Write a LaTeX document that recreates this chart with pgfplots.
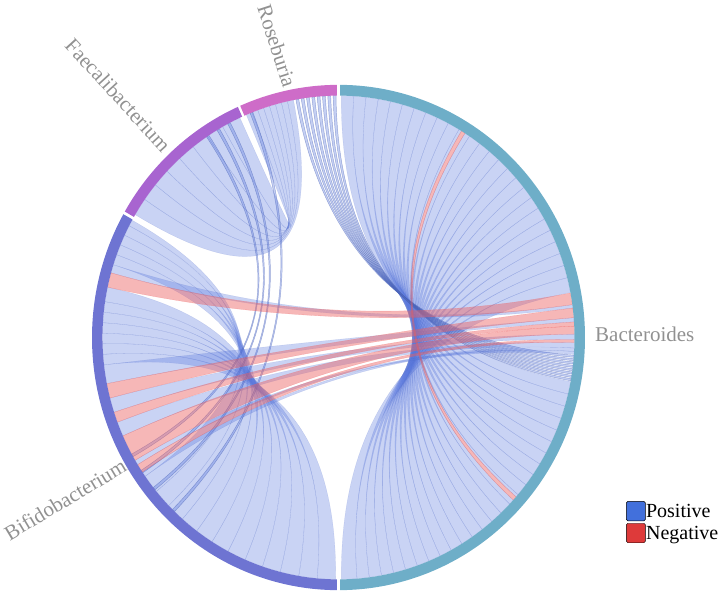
\documentclass[border=0pt]{standalone}
\usepackage{pgfplots}
\pgfplotsset{compat=1.18}
\usepackage{pgfplotstable}
\usepackage{fontspec}
\setmainfont{Liberation Serif}
\newfontfamily\labfont{Liberation Serif}

\definecolor{bact}{RGB}{110,174,200}
\definecolor{bifi}{RGB}{110,116,210}
\definecolor{faec}{RGB}{168,100,208}
\definecolor{rose}{RGB}{206,108,200}
\definecolor{cpos}{RGB}{90,120,222}
\definecolor{cneg}{RGB}{236,96,96}
\definecolor{lblgray}{RGB}{145,145,145}
\definecolor{legpos}{RGB}{66,112,220}
\definecolor{legneg}{RGB}{222,58,58}

\tikzset{
  chordpos/.style={fill=cpos, fill opacity=0.33, draw=cpos!85!black, draw opacity=0.2, line width=0.3pt},
  chordneg/.style={fill=cneg, fill opacity=0.45, draw=cneg, draw opacity=0.4, line width=0.3pt},
  chordline/.style={fill=cpos, fill opacity=0.35, draw=cpos!80!black, draw opacity=0.5, line width=0.45pt},
}

% sectors: angles clockwise from top (degrees); c: 0 Bacteroides 1 Bifidobacterium 2 Faecalibacterium 3 Roseburia
\pgfplotstableread{
a1 a2 c
0.4 179.6 0
180.4 299.2 1
299.9 335.9 2
336.5 359.6 3
}\sectors

% chords: s1 s2 = one end, t1 t2 = other end (clockwise from top); c: 0 positive, 1 negative, 2 positive thin
\pgfplotstableread{
s1 s2 t1 t2 c
0.7 3.7 100.5 103.5 0
3.7 6.7 103.5 106.5 0
6.7 9.7 106.5 109.5 0
9.7 12.7 109.5 112.5 0
12.7 15.7 112.5 115.5 0
15.7 18.7 115.5 118.5 0
18.7 21.7 118.5 121.5 0
21.7 24.7 121.5 124.5 0
24.7 27.7 124.5 127.5 0
27.7 30.7 127.5 130.5 0
30.7 31.4 130.5 131.2 0
32.4 33.7 132.2 133.5 0
33.7 36.7 133.5 136.5 0
36.7 39.7 136.5 139.5 0
39.7 42.7 139.5 142.5 0
42.7 45.7 142.5 145.5 0
45.7 48.7 145.5 148.5 0
48.7 51.7 148.5 151.5 0
51.7 54.7 151.5 154.5 0
54.7 57.7 154.5 157.5 0
57.7 60.7 157.5 160.5 0
60.7 63.7 160.5 163.5 0
63.7 66.7 163.5 166.5 0
66.7 69.7 166.5 169.5 0
69.7 72.7 169.5 172.5 0
72.7 75.7 172.5 175.5 0
75.7 79.3 175.5 179.3 0
263.5 266 180.7 185.2 0
266 268.5 185.2 189.7 0
268.5 271 189.7 194.3 0
271 273.5 194.3 198.8 0
273.5 276 198.8 203.3 0
276 278.5 203.3 207.9 0
278.5 282 207.9 212.4 0
287.5 290 212.4 216.9 0
290 292.5 216.9 221.4 0
292.5 295 221.4 226.0 0
295 297.5 226.0 230.5 0
297.5 299 230.5 235.0 0
300.5 304.8 347.5 349 0
304.8 309.1 346 347.5 0
309.1 313.4 344.5 346 0
313.4 317.7 343 344.5 0
317.7 322.0 341.5 343 0
322.0 326.3 340 341.5 0
326.3 330.6 338.5 340 0
330.6 335.3 337 338.5 0
326 326.7 240.5 241.2 2
329 329.7 236 236.7 2
332 332.7 231 231.7 2
338 338.7 224 224.7 2
349.6 350.3 94.2 94.7 2
350.9 351.6 95 95.5 2
352.2 352.9 95.8 96.3 2
353.5 354.2 96.6 97.1 2
354.8 355.5 97.4 97.9 2
356.1 356.8 98.2 98.7 2
357.4 358.1 99 99.5 2
358.7 359.4 99.8 100.3 2
285.5 287.5 82.2 83 0
259 263.5 85.3 86.3 0
252 255.5 89.2 90.5 0
246 249.5 91.2 92.5 0
235 236.2 92.5 93.3 0
238.3 239.5 93.3 94 0
31.4 32.4 131.2 132.2 1
282 285.5 79.4 82.2 1
255.5 259 83 85.3 1
249.5 252 86.3 87.3 1
239.5 246 87.3 89.2 1
236.2 238.3 90.5 91.2 1
}\chords

\pgfplotstablegetrowsof{\chords}
\pgfmathtruncatemacro\nchords{\pgfplotsretval-1}
\pgfplotstablegetrowsof{\sectors}
\pgfmathtruncatemacro\nsectors{\pgfplotsretval-1}

\def\Cx{338.5}\def\Cy{256.5}
\def\Rin{236}\def\Rout{246.5}\def\Rc{78.667}\def\Ys{1.025}

\begin{document}
\begin{tikzpicture}
\begin{axis}[x=1pt,y=1pt,xmin=0,xmax=725,ymin=0,ymax=594,hide axis,clip=false,
  legend image code/.code={\fill[#1,rounded corners=1.5pt] (0pt,-9.5pt) rectangle (19pt,10pt);},
  legend style={at={(0.8634,0.1566)},anchor=north west,draw=none,fill=none,inner sep=0pt,
    font=\labfont\fontsize{20}{22}\selectfont,row sep=2pt,nodes={inner sep=0.5pt}},
  legend cell align=left]
\path (axis cs:0,0) rectangle (axis cs:725,594);
\pgfplotsforeachungrouped \i in {0,...,\nchords}{%
  \pgfplotstablegetelem{\i}{s1}\of\chords \pgfmathsetmacro\pa{90-\pgfplotsretval}%
  \pgfplotstablegetelem{\i}{s2}\of\chords \pgfmathsetmacro\pb{90-\pgfplotsretval}%
  \pgfplotstablegetelem{\i}{t1}\of\chords \pgfmathsetmacro\pc{90-\pgfplotsretval}%
  \pgfplotstablegetelem{\i}{t2}\of\chords \pgfmathsetmacro\pd{90-\pgfplotsretval}%
  \pgfplotstablegetelem{\i}{c}\of\chords \pgfmathtruncatemacro\cc{\pgfplotsretval}%
  \ifcase\cc \def\sty{chordpos}\or \def\sty{chordneg}\or \def\sty{chordline}\fi
  \edef\cmd{\noexpand\path[\sty,shift={(axis cs:\Cx,\Cy)},yscale=\Ys]
    (\pa:\Rin pt) arc[start angle=\pa,end angle=\pb,radius=\Rin pt]
    .. controls (\pb:\Rc pt) and (\pc:\Rc pt) .. (\pc:\Rin pt)
    arc[start angle=\pc,end angle=\pd,radius=\Rin pt]
    .. controls (\pd:\Rc pt) and (\pa:\Rc pt) .. cycle;}%
  \cmd
}
\pgfplotsforeachungrouped \i in {0,...,\nsectors}{%
  \pgfplotstablegetelem{\i}{a1}\of\sectors \pgfmathsetmacro\pa{90-\pgfplotsretval}%
  \pgfplotstablegetelem{\i}{a2}\of\sectors \pgfmathsetmacro\pb{90-\pgfplotsretval}%
  \pgfplotstablegetelem{\i}{c}\of\sectors \pgfmathtruncatemacro\cc{\pgfplotsretval}%
  \ifcase\cc \def\sty{bact}\or \def\sty{bifi}\or \def\sty{faec}\or \def\sty{rose}\fi
  \edef\cmd{\noexpand\fill[\sty,shift={(axis cs:\Cx,\Cy)},yscale=\Ys]
    (\pa:\Rout pt) arc[start angle=\pa,end angle=\pb,radius=\Rout pt]
    -- (\pb:\Rin pt) arc[start angle=\pb,end angle=\pa,radius=\Rin pt] -- cycle;}%
  \cmd
}
\node[anchor=base west,inner sep=0pt,text=lblgray,font=\labfont\fontsize{21}{25}\selectfont] at (axis cs:595,252) {Bacteroides};
\node[rotate=-72,inner sep=0pt,text=lblgray,font=\labfont\fontsize{21}{25}\selectfont] at (axis cs:277,548) {Roseburia};
\node[rotate=-47.5,inner sep=0pt,text=lblgray,font=\labfont\fontsize{21}{25}\selectfont] at (axis cs:118,499) {Faecalibacterium};
\node[rotate=31,inner sep=0pt,text=lblgray,font=\labfont\fontsize{21}{25}\selectfont] at (axis cs:65,94.5) {Bifidobacterium};
\addlegendimage{fill=legpos}\addlegendentry{Positive}
\addlegendimage{fill=legneg}\addlegendentry{Negative}
\end{axis}
\end{tikzpicture}
\end{document}
